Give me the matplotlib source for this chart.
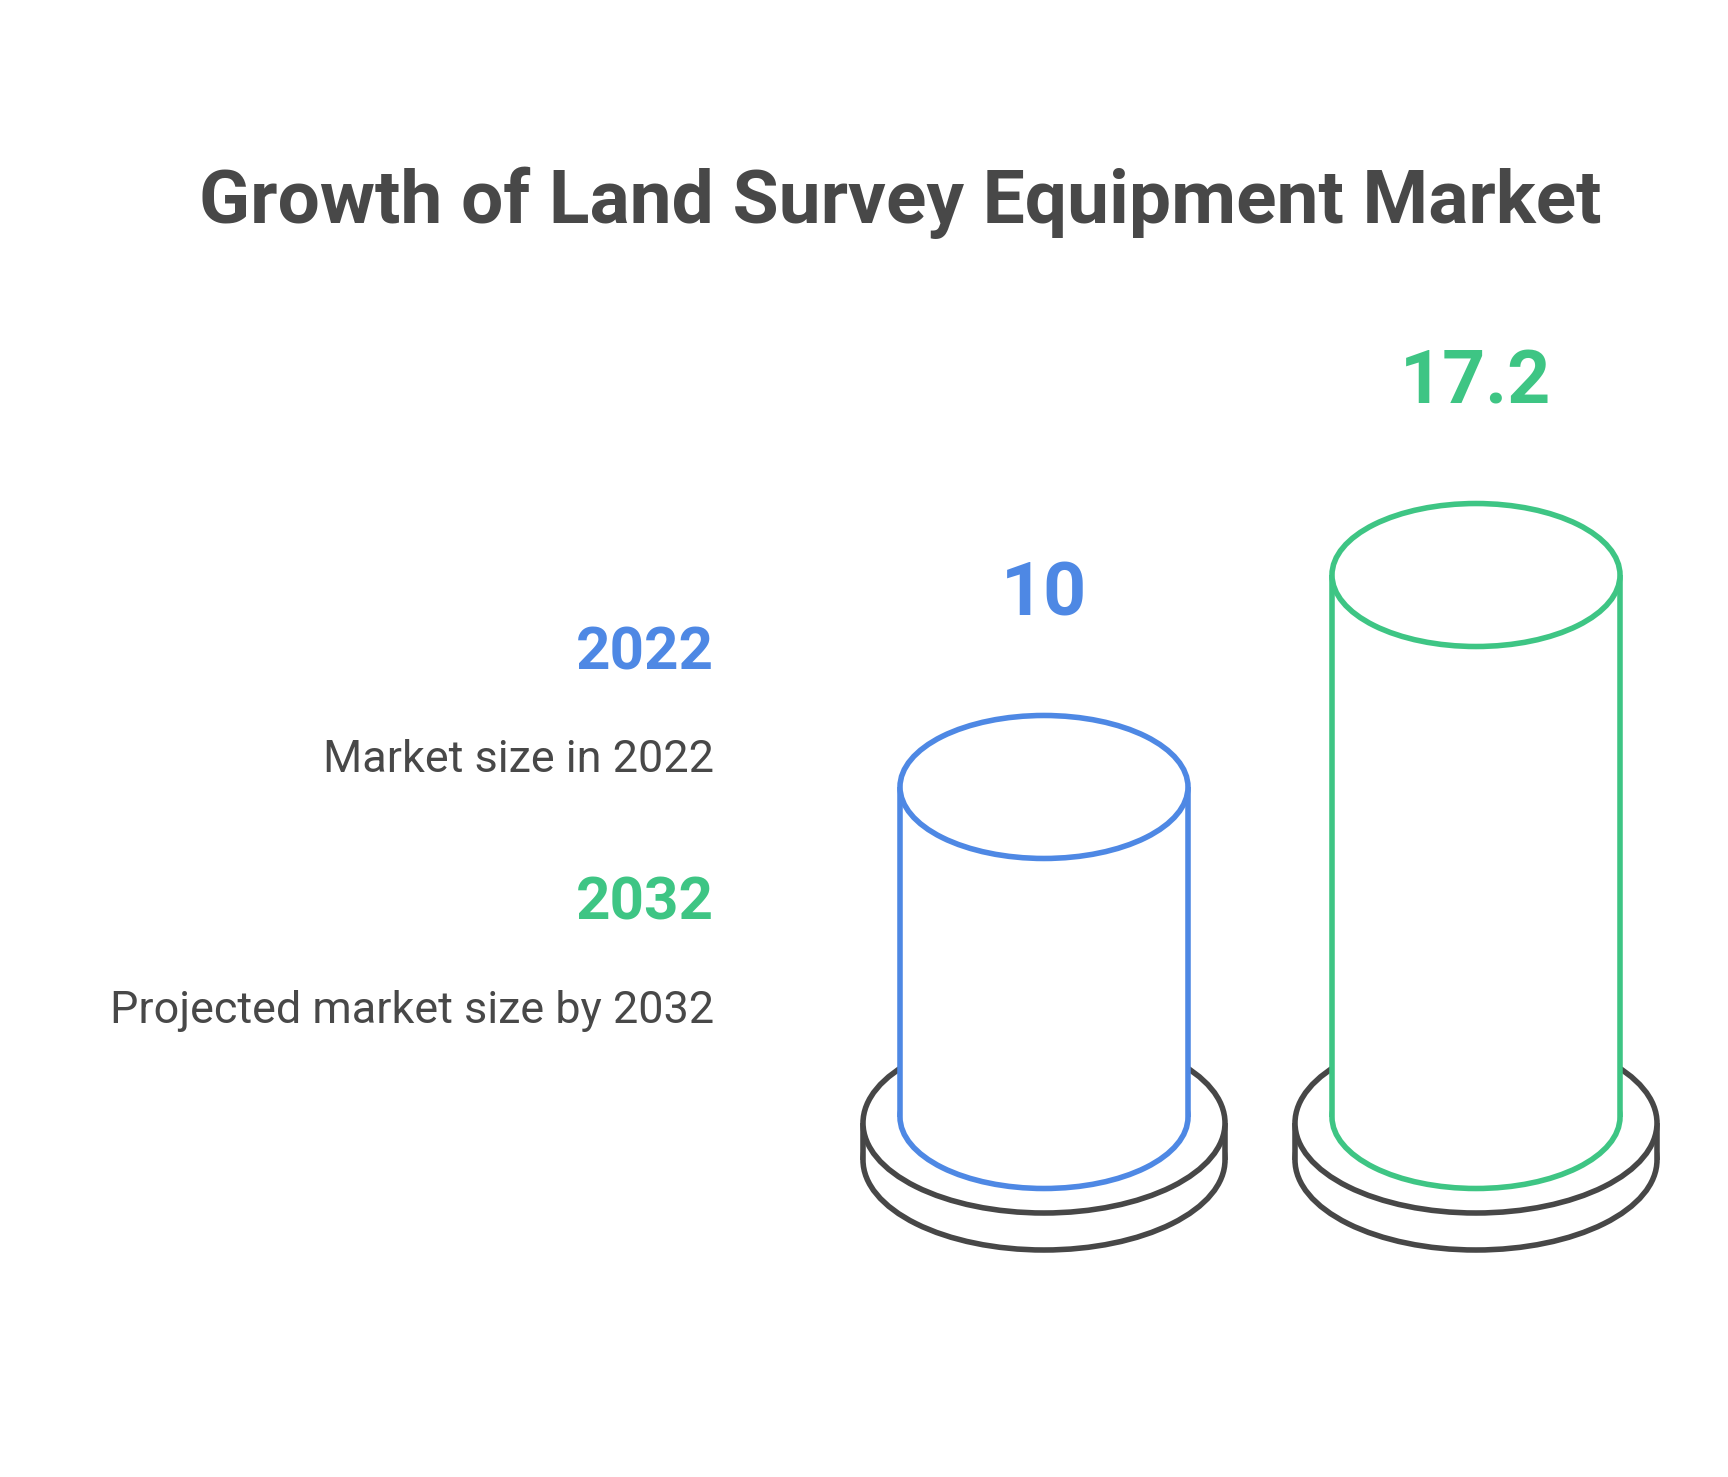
import matplotlib
matplotlib.use("Agg")
import matplotlib.pyplot as plt
from matplotlib.patches import Ellipse, Rectangle

# ---- data ----
years = ["2022", "2032"]
values = [10, 17.2]
value_labels = ["10", "17.2"]
descriptions = ["Market size in 2022", "Projected market size by 2032"]
title = "Growth of Land Survey Equipment Market"
colors = ["#4E88E4", "#3EC584"]

# ---- style ----
W, H, DPI = 1728, 1477, 100
GRAY = "#484848"
BASE_GRAY = "#474747"
LW = 4.0
FONT = "Roboto"

fig = plt.figure(figsize=(W / DPI, H / DPI), dpi=DPI)
fig.patch.set_facecolor("white")

# main axes: x = category index, y = value units
ax = fig.add_axes([0, 0, 1, 1])
PX_PER_UNIT = 29.44
BOTTOM = -1.21                      # value of cylinder bottom centre
ax.set_ylim(BOTTOM - (H - 1117) / PX_PER_UNIT, BOTTOM + 1117 / PX_PER_UNIT)
PX_PER_IDX = 432
ax.set_xlim(-1044 / PX_PER_IDX, (W - 1044) / PX_PER_IDX)
ax.axis("off")

def u(px):  # pixel length -> value units
    return px / PX_PER_UNIT

def xi(px):  # pixel length -> index units
    return px / PX_PER_IDX

cyl_hw = xi(144)
cyl_hh = u(71.5)
base_hw = xi(181)
base_hh = u(90)
base_c = BOTTOM - u(6)
base_t = u(37)

for i, (v, c, lab) in enumerate(zip(values, colors, value_labels)):
    # base disk
    low = base_c - base_t
    ax.add_patch(Ellipse((i, low), 2 * base_hw, 2 * base_hh, fc="white", ec=BASE_GRAY, lw=LW, zorder=1))
    ax.add_patch(Rectangle((i - base_hw, low), 2 * base_hw, base_t, fc="white", ec="none", zorder=2))
    ax.plot([i - base_hw, i - base_hw], [low, base_c], color=BASE_GRAY, lw=LW, zorder=2, solid_capstyle="butt")
    ax.plot([i + base_hw, i + base_hw], [low, base_c], color=BASE_GRAY, lw=LW, zorder=2, solid_capstyle="butt")
    ax.add_patch(Ellipse((i, base_c), 2 * base_hw, 2 * base_hh, fc="white", ec=BASE_GRAY, lw=LW, zorder=3))
    # cylinder
    ax.add_patch(Ellipse((i, BOTTOM), 2 * cyl_hw, 2 * cyl_hh, fc="white", ec=c, lw=LW, zorder=4))
    ax.add_patch(Rectangle((i - cyl_hw, BOTTOM), 2 * cyl_hw, v - BOTTOM, fc="white", ec="none", zorder=5))
    ax.plot([i - cyl_hw, i - cyl_hw], [BOTTOM, v], color=c, lw=LW, zorder=5, solid_capstyle="butt")
    ax.plot([i + cyl_hw, i + cyl_hw], [BOTTOM, v], color=c, lw=LW, zorder=5, solid_capstyle="butt")
    ax.add_patch(Ellipse((i, v), 2 * cyl_hw, 2 * cyl_hh, fc="white", ec=c, lw=LW, zorder=6))
    ax.text(i, v + cyl_hh + u(100), lab, ha="center", va="baseline", color=c,
            fontsize=54.2, fontweight="bold", family=FONT, zorder=7)

# text axes in pixel coordinates
tx = fig.add_axes([0, 0, 1, 1], facecolor="none")
tx.set_xlim(0, W)
tx.set_ylim(H, 0)
tx.axis("off")

tx.text(900, 223, title, ha="center", va="baseline", color=GRAY,
        fontsize=54.0, fontweight="bold", family=FONT)

year_base = [669, 919]
desc_base = [772, 1023]
for y, d, c, yb, db in zip(years, descriptions, colors, year_base, desc_base):
    tx.text(714, yb, y, ha="right", va="baseline", color=c,
            fontsize=43.3, fontweight="bold", family=FONT)
    tx.text(714, db, d, ha="right", va="baseline", color=GRAY,
            fontsize=32.4, family=FONT)

fig.savefig("out.png", dpi=DPI, facecolor="white")
